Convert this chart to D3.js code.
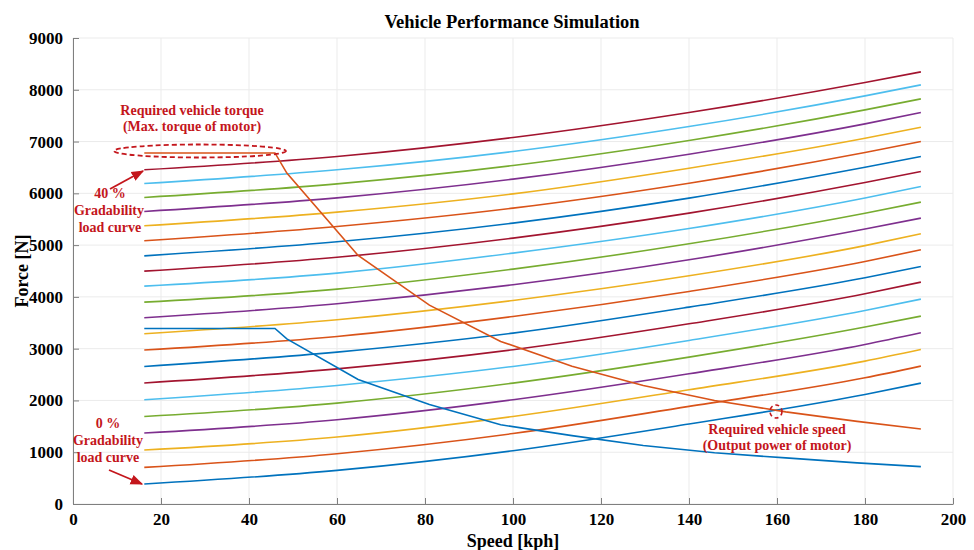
<!DOCTYPE html>
<html>
<head>
<meta charset="utf-8">
<script src="https://cdn.jsdelivr.net/npm/d3@7"></script>
<style>
  body { margin: 0; background: #fff; }
  svg { display: block; font-family: "Liberation Serif", "Times New Roman", serif; }
  .note { fill: #c4161c; font-weight: bold; font-size: 14px; text-anchor: middle; }
</style>
</head>
<body>
<svg id="chart" width="974" height="550"></svg>
<script>
const loadSpeeds = [16.2, 60, 100, 140, 180, 192.7];
const gradePercent = [0, 2, 4, 6, 8, 10, 12, 14, 16, 18, 20, 22, 24, 26, 28, 30, 32, 34, 36, 38, 40];
// road load force [N] per gradability step, at loadSpeeds
const loadForces = [
  [386, 649, 1029, 1545, 2115, 2335],
  [707, 971, 1360, 1885, 2438, 2664],
  [1042, 1293, 1690, 2207, 2760, 2985],
  [1371, 1627, 2013, 2515, 3082, 3307],
  [1691, 1949, 2335, 2837, 3417, 3629],
  [2013, 2290, 2657, 3159, 3738, 3957],
  [2336, 2610, 2980, 3480, 4060, 4285],
  [2657, 2934, 3301, 3803, 4369, 4588],
  [2973, 3236, 3622, 4105, 4684, 4909],
  [3288, 3558, 3931, 4407, 4990, 5218],
  [3597, 3867, 4234, 4716, 5311, 5521],
  [3899, 4150, 4536, 5025, 5617, 5830],
  [4208, 4459, 4845, 5320, 5910, 6132],
  [4497, 4765, 5135, 5617, 6209, 6421],
  [4793, 5064, 5424, 5907, 6505, 6711],
  [5083, 5360, 5714, 6196, 6788, 7000],
  [5373, 5637, 5990, 6486, 7065, 7277],
  [5649, 5913, 6274, 6756, 7342, 7560],
  [5920, 6183, 6537, 7020, 7612, 7824],
  [6190, 6454, 6808, 7290, 7882, 8095],
  [6454, 6711, 7078, 7561, 8140, 8346]
];
// motor curves
const motorSpeeds = [16.2, 32.4, 45.9, 48.6, 64.8, 81, 97.2, 113.4, 129.6, 145.8, 162, 178.2, 192.7];
const torqueForce = [6780, 6780, 6780, 6390, 4800, 3840, 3140, 2660, 2290, 2000, 1780, 1595, 1447];
const outputForce = [3390, 3390, 3390, 3190, 2405, 1920, 1530, 1320, 1130, 990, 890, 795, 722];

const xTicks = [0, 20, 40, 60, 80, 100, 120, 140, 160, 180, 200];
const yTicks = [0, 1000, 2000, 3000, 4000, 5000, 6000, 7000, 8000, 9000];
const palette = ['#0072BD', '#D95319', '#EDB120', '#7E2F8E', '#77AC30', '#4DBEEE', '#A2142F'];

const serif = '"Liberation Serif", "Times New Roman", serif';
const svg = d3.select('#chart');
const margin = { top: 38, right: 21, bottom: 46, left: 73 };
const width = 974 - margin.left - margin.right;
const height = 550 - margin.top - margin.bottom;

const x = d3.scaleLinear().domain([0, 200]).range([0, width]);
const y = d3.scaleLinear().domain([0, 9000]).range([height, 0]);

const g = svg.append('g').attr('transform', `translate(${margin.left},${margin.top})`);

// grid
g.append('g').selectAll('line').data(xTicks).join('line')
  .attr('x1', d => x(d)).attr('x2', d => x(d)).attr('y1', 0).attr('y2', height)
  .attr('stroke', '#ebebeb').attr('stroke-width', 1);
g.append('g').selectAll('line').data(yTicks).join('line')
  .attr('y1', d => y(d)).attr('y2', d => y(d)).attr('x1', 0).attr('x2', width)
  .attr('stroke', '#ebebeb').attr('stroke-width', 1);

// axes
const xAxis = g.append('g').attr('transform', `translate(0,${height})`)
  .call(d3.axisBottom(x).tickValues(xTicks).tickSizeInner(-6).tickSizeOuter(0).tickPadding(9));
const yAxis = g.append('g')
  .call(d3.axisLeft(y).tickValues(yTicks).tickSizeInner(-6).tickSizeOuter(0).tickPadding(10).tickFormat(d3.format('d')));
[xAxis, yAxis].forEach(a => {
  a.attr('font-family', serif).attr('font-size', 17).attr('font-weight', 'bold');
  a.select('.domain').attr('stroke', '#7f7f7f');
  a.selectAll('.tick line').attr('stroke', '#7f7f7f');
  a.selectAll('.tick text').attr('fill', '#000');
});

// load curves
const line = d3.line().x(d => x(d[0])).y(d => y(d[1])).curve(d3.curveMonotoneX);
loadForces.forEach((row, i) => {
  g.append('path')
    .datum(row.map((f, j) => [loadSpeeds[j], f]))
    .attr('fill', 'none')
    .attr('stroke', palette[i % palette.length])
    .attr('stroke-width', 1.6)
    .attr('d', line);
});

// motor curves
const motorLine = d3.line().x(d => x(d[0])).y(d => y(d[1]));
[[torqueForce, '#D95319'], [outputForce, '#0072BD']].forEach(([vals, c]) => {
  g.append('path')
    .datum(vals.map((f, j) => [motorSpeeds[j], f]))
    .attr('fill', 'none')
    .attr('stroke', c)
    .attr('stroke-width', 1.6)
    .attr('d', motorLine);
});

// title + axis labels
svg.append('text').attr('x', 512).attr('y', 28).attr('text-anchor', 'middle')
  .attr('font-weight', 'bold').attr('font-size', 18.5).text('Vehicle Performance Simulation');
svg.append('text').attr('x', 513).attr('y', 547).attr('text-anchor', 'middle')
  .attr('font-weight', 'bold').attr('font-size', 18).text('Speed [kph]');
svg.append('text').attr('transform', 'translate(28,271) rotate(-90)').attr('text-anchor', 'middle')
  .attr('font-weight', 'bold').attr('font-size', 18).text('Force [N]');

// annotations
const red = '#c4161c';
svg.append('defs').append('marker')
  .attr('id', 'arr').attr('viewBox', '0 0 10 10').attr('refX', 9).attr('refY', 5)
  .attr('markerWidth', 7).attr('markerHeight', 7).attr('orient', 'auto')
  .append('path').attr('d', 'M0,1 L10,5 L0,9 Z').attr('fill', red);

const notes = svg.append('g');
notes.append('ellipse').attr('cx', 200).attr('cy', 151).attr('rx', 86).attr('ry', 6.5)
  .attr('fill', 'none').attr('stroke', red).attr('stroke-width', 1.8).attr('stroke-dasharray', '5,3');
notes.append('ellipse').attr('cx', 776).attr('cy', 411.5).attr('rx', 6).attr('ry', 6.5)
  .attr('fill', 'none').attr('stroke', red).attr('stroke-width', 1.6).attr('stroke-dasharray', '4,3');

const addText = (tx, ty, s) => notes.append('text').attr('class', 'note').attr('x', tx).attr('y', ty).text(s);
addText(192, 115, 'Required vehicle torque');
addText(192, 131, '(Max. torque of motor)');
addText(110, 198, '40 %');
addText(109, 215, 'Gradability');
addText(110, 232, 'load curve');
addText(108, 428, '0 %');
addText(108, 445, 'Gradability');
addText(108, 462, 'load curve');
addText(777, 434, 'Required vehicle speed');
addText(777, 450, '(Output power of motor)');

notes.append('line').attr('x1', 110).attr('y1', 189).attr('x2', 143).attr('y2', 171)
  .attr('stroke', red).attr('stroke-width', 1.8).attr('marker-end', 'url(#arr)');
notes.append('line').attr('x1', 109).attr('y1', 470).attr('x2', 142).attr('y2', 484)
  .attr('stroke', red).attr('stroke-width', 1.8).attr('marker-end', 'url(#arr)');
</script>
</body>
</html>
